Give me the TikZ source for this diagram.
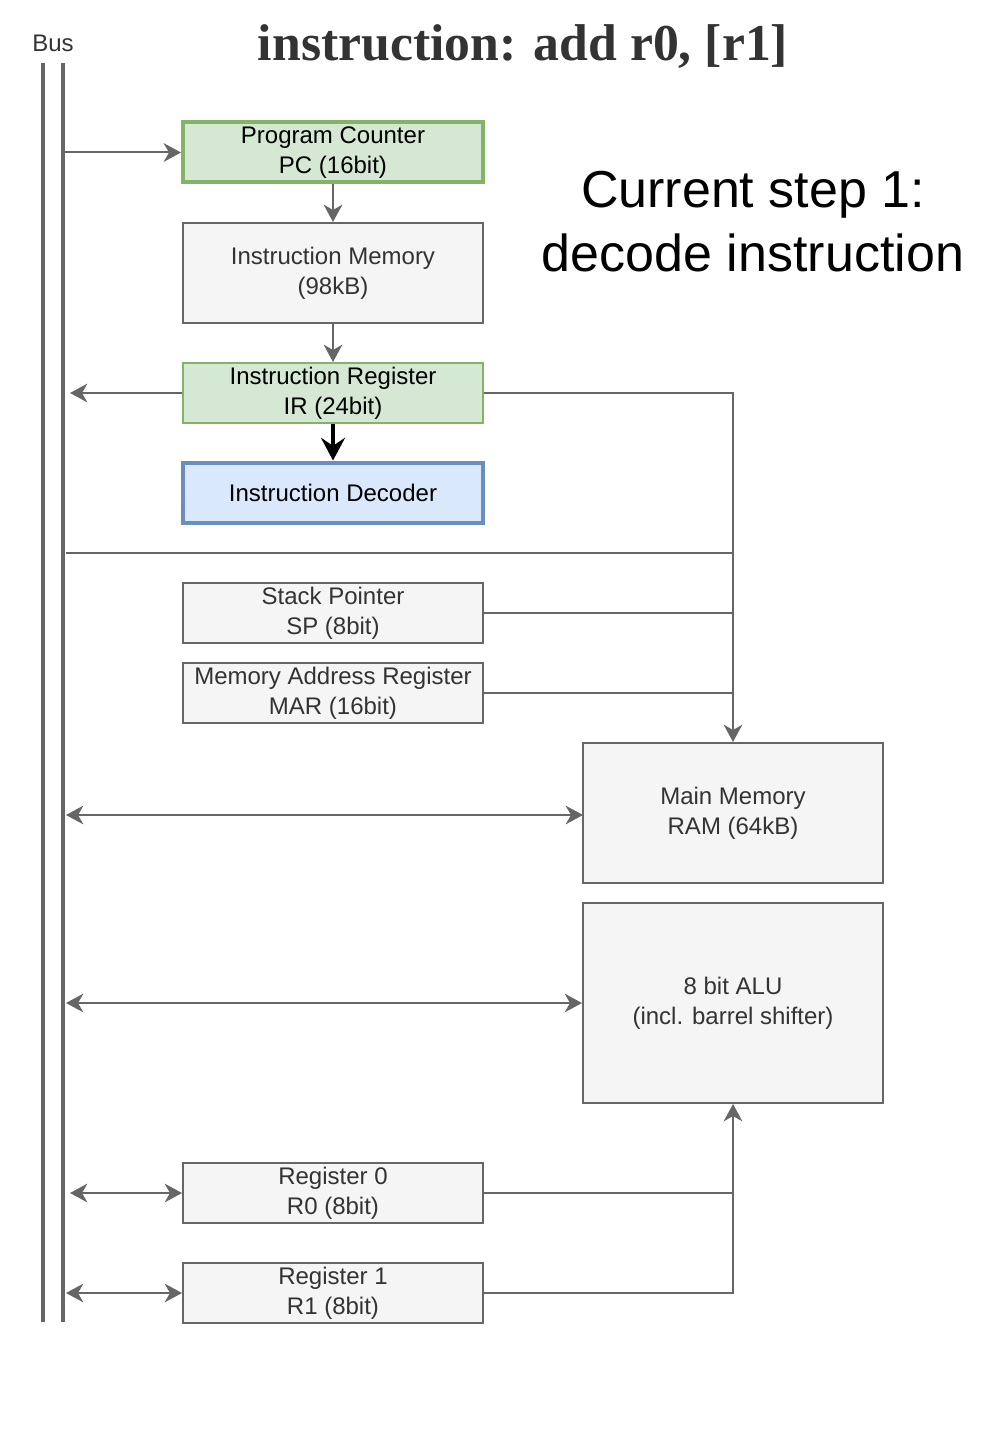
\documentclass[tikz,border=0pt]{standalone}
\usepackage{fontspec}
\setmainfont{Liberation Sans}
\newfontfamily\titleserif{Liberation Serif}
\usetikzlibrary{arrows.meta}
\definecolor{gfill}{HTML}{D5E8D4}
\definecolor{gline}{HTML}{82B366}
\definecolor{bfill}{HTML}{DAE8FC}
\definecolor{bline}{HTML}{6C8EBF}
\definecolor{pfill}{HTML}{F5F5F5}
\definecolor{pline}{HTML}{666666}
\definecolor{ptext}{HTML}{333333}
\tikzset{
  base box/.style={rectangle, inner sep=0pt, align=center, minimum width=225pt,
    font=\fontsize{18}{22.5}\selectfont},
  graybox/.style={base box, draw=pline, fill=pfill, text=ptext, line width=1.5pt},
  greenbox/.style={base box, draw=gline, fill=gfill, text=black, line width=1.5pt},
  greenthick/.style={base box, draw=gline, fill=gfill, text=black, line width=3pt},
  bluethick/.style={base box, draw=bline, fill=bfill, text=black, line width=3pt},
  conn/.style={draw=pline, line width=1.5pt},
  busline/.style={draw=pline, line width=3.5pt},
  >={Stealth[length=13pt,width=14pt,inset=4pt]},
}
\begin{document}
\begin{tikzpicture}[x=0.75pt,y=-0.75pt]
\useasboundingbox (0,0) rectangle (1004,1444);
% texts
\node[anchor=base, text=ptext, font=\fontsize{18}{22}\selectfont] (bus) at (53,52) {Bus};
\node[anchor=base, text=ptext, font=\titleserif\bfseries\fontsize{38.8}{47}\selectfont] (title) at (523,61) {instruction: add r0, [r1]};
\node[anchor=base, font=\fontsize{39}{47}\selectfont] (step1) at (753,208) {Current step 1:};
\node[anchor=base, font=\fontsize{39}{47}\selectfont] (step2) at (753,272) {decode instruction};
% bus
\coordinate (b1t) at (43,63); \coordinate (b1b) at (43,1322);
\coordinate (b2t) at (63,63); \coordinate (b2b) at (63,1322);
\draw[busline] (b1t) -- (b1b);
\draw[busline] (b2t) -- (b2b);
% boxes
\node[greenthick, minimum height=45pt] (pc) at (333,152.5) {Program Counter\\PC (16bit)};
\node[graybox, minimum height=75pt] (im) at (333,273) {Instruction Memory\\(98kB)};
\node[greenbox, minimum height=45pt] (ir) at (333,393) {Instruction Register\\IR (24bit)};
\node[bluethick, minimum height=45pt] (id) at (333,492.5) {Instruction Decoder};
\node[graybox, minimum height=45pt] (sp) at (333,613) {Stack Pointer\\SP (8bit)};
\node[graybox, minimum height=45pt] (mar) at (333,693) {Memory Address Register\\MAR (16bit)};
\node[graybox, minimum height=105pt] (mm) at (733,813) {Main Memory\\RAM (64kB)};
\node[graybox, minimum height=150pt] (alu) at (733,1003) {8 bit ALU\\(incl. barrel shifter)};
\node[graybox, minimum height=45pt] (r0) at (333,1193) {Register 0\\R0 (8bit)};
\node[graybox, minimum height=45pt] (r1) at (333,1293) {Register 1\\R1 (8bit)};
% coordinates
\coordinate (pcin) at (63,152.5);
\coordinate (irout) at (70,393);
\coordinate (irr) at (733,393);
\coordinate (hl) at (66,553);
\coordinate (hr) at (733,553);
\coordinate (spr) at (733,613);
\coordinate (marr) at (733,693);
\coordinate (mml) at (66,815);
\coordinate (mmin) at (583,815);
\coordinate (alul) at (66,1003);
\coordinate (r0l) at (70,1193);
\coordinate (r0r) at (733,1193);
\coordinate (r1l) at (66,1293);
\coordinate (r1r) at (733,1293);
% connectors
\draw[conn,->] (pcin) -- (pc.west);
\draw[conn,->] (pc.south) -- (im.north);
\draw[conn,->] (im.south) -- (ir.north);
\draw[conn,->] (ir.west) -- (irout);
\draw[line width=3pt, -{Stealth[length=17pt,width=18pt,inset=6pt]}] (ir.south) -- (id.north);
\draw[conn,->] (ir.east) -- (irr) -- (mm.north);
\draw[conn] (hl) -- (hr);
\draw[conn] (sp.east) -- (spr);
\draw[conn] (mar.east) -- (marr);
\draw[conn,<->] (mml) -- (mmin);
\draw[conn,<->] (alul) -- (alu.west);
\draw[conn,<->] (r0l) -- (r0.west);
\draw[conn,<->] (r1l) -- (r1.west);
\draw[conn,->] (r0.east) -- (r0r) -- (alu.south);
\draw[conn] (r1.east) -- (r1r) -- (r0r);
\end{tikzpicture}
\end{document}
